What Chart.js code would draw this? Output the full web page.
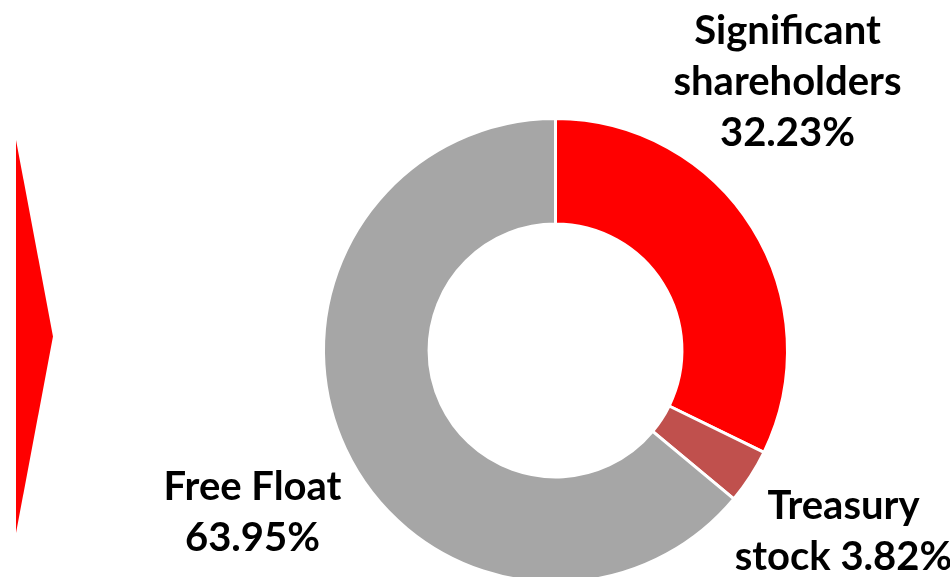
<!DOCTYPE html>
<html>
<head>
<meta charset="utf-8">
<script src="https://cdn.jsdelivr.net/npm/chart.js@4.4.1/dist/chart.umd.min.js"></script>
<style>
    html, body { margin: 0; padding: 0; background: #fff; overflow: hidden; }
    #wrap { position: relative; width: 950px; height: 577px; overflow: hidden; }
    #arrow {
        position: absolute; left: 16px; top: 140px; width: 37px; height: 393px;
        background: #ff0000;
        clip-path: polygon(0 0, 100% 50%, 0 100%);
    }
</style>
</head>
<body>
<div id="wrap">
    <div id="arrow"></div>
    <!-- canvas is a bit taller than the page so the ring runs off the bottom edge -->
    <canvas id="shareChart" width="950" height="590"></canvas>
</div>
<script>
const labels = ['Significant shareholders', 'Treasury stock', 'Free Float'];
const shares = [32.23, 3.82, 63.95];
const colors = ['#ff0000', '#c0504d', '#a6a6a6'];

// label text lines and where they sit relative to the doughnut centre
const labelLines = [
    ['Significant', 'shareholders', '32.23%'],
    ['Treasury', 'stock 3.82%'],
    ['Free Float', '63.95%']
];
const labelOffsets = [
    { dx: 232, dy: -307 },
    { dx: 288, dy: 168 },
    { dx: -303, dy: 149 }
];

const outsideLabels = {
    id: 'outsideLabels',
    afterDraw(chart) {
        const ctx = chart.ctx;
        const arc = chart.getDatasetMeta(0).data[0];
        ctx.save();
        ctx.fillStyle = '#000';
        ctx.font = 'bold 40px Lato';
        ctx.textAlign = 'center';
        ctx.textBaseline = 'alphabetic';
        labelLines.forEach((lines, i) => {
            lines.forEach((line, j) => {
                ctx.fillText(line, arc.x + labelOffsets[i].dx, arc.y + labelOffsets[i].dy + j * 51);
            });
        });
        ctx.restore();
    }
};

new Chart(document.getElementById('shareChart').getContext('2d'), {
    type: 'doughnut',
    data: {
        labels: labels,
        datasets: [{
            data: shares,
            backgroundColor: colors,
            borderColor: '#ffffff',
            borderWidth: 3,
            hoverOffset: 0,
            offset: 0
        }]
    },
    options: {
        responsive: false,
        animation: false,
        cutout: '54.5%',
        layout: {
            padding: { left: 322, right: 161, top: 117, bottom: 6 }
        },
        plugins: {
            legend: { display: false },
            tooltip: { enabled: false }
        }
    },
    plugins: [outsideLabels]
});
</script>
</body>
</html>
